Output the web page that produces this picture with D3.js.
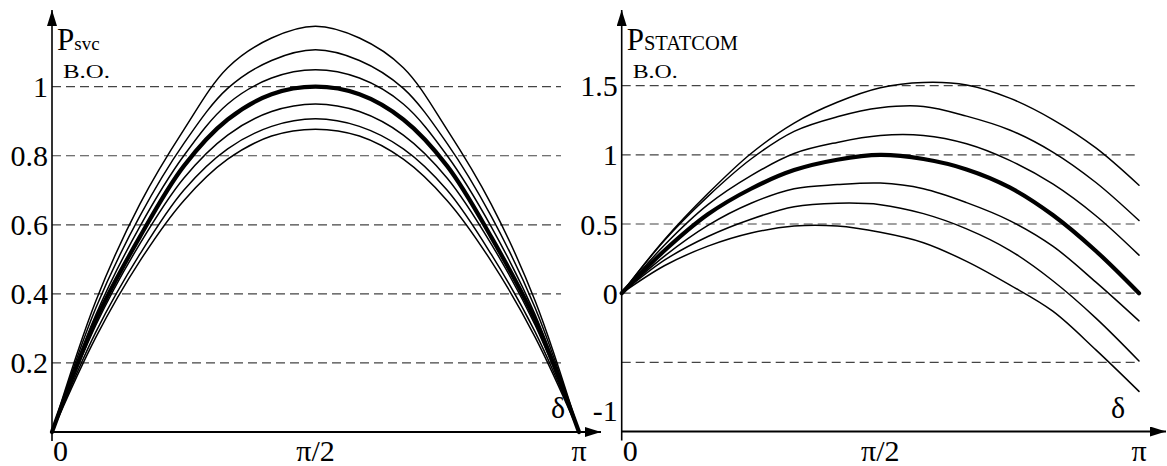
<!DOCTYPE html>
<html>
<head>
<meta charset="utf-8">
<title>P svc / P statcom</title>
<style>
  body { margin: 0; background: #fff; }
  text { font-family: "Liberation Serif", "Times New Roman", serif; fill: #000; }
</style>
</head>
<body>

<div id="my_dataviz"></div>

<script src="https://d3js.org/d3.v7.min.js"></script>
<script>

    // load angle, degrees (0 .. 180 every 15)
    var angles = [0, 15, 30, 45, 60, 75, 90, 105, 120, 135, 150, 165, 180];

    // SVC curves (4th one is the thick base curve)
    var svc1 = [0, 0.38, 0.66, 0.875, 1.055, 1.141, 1.175, 1.141, 1.055, 0.875, 0.66, 0.38, 0];
    var svc2 = [0, 0.36, 0.625, 0.835, 0.995, 1.076, 1.107, 1.076, 0.995, 0.835, 0.625, 0.36, 0];
    var svc3 = [0, 0.34, 0.595, 0.80, 0.95, 1.025, 1.049, 1.025, 0.95, 0.80, 0.595, 0.34, 0];
    var svc4 = [0, 0.325, 0.565, 0.77, 0.905, 0.978, 1.0, 0.978, 0.905, 0.77, 0.565, 0.325, 0];
    var svc5 = [0, 0.31, 0.545, 0.735, 0.86, 0.928, 0.95, 0.928, 0.86, 0.735, 0.545, 0.31, 0];
    var svc6 = [0, 0.29, 0.515, 0.70, 0.82, 0.885, 0.907, 0.885, 0.82, 0.70, 0.515, 0.29, 0];
    var svc7 = [0, 0.275, 0.495, 0.67, 0.79, 0.857, 0.877, 0.857, 0.79, 0.67, 0.495, 0.275, 0];

    // STATCOM curves, right panel (4th one is the thick base curve)
    var st1 = [0, 0.39, 0.72, 1.01, 1.23, 1.38, 1.485, 1.523, 1.505, 1.41, 1.255, 1.05, 0.78];
    var st2 = [0, 0.385, 0.70, 0.97, 1.17, 1.275, 1.34, 1.35, 1.28, 1.18, 1.02, 0.80, 0.525];
    var st3 = [0, 0.35, 0.64, 0.85, 1.01, 1.09, 1.14, 1.14, 1.08, 0.96, 0.79, 0.56, 0.275];
    var st4 = [0, 0.31, 0.57, 0.755, 0.89, 0.965, 1.0, 0.97, 0.895, 0.765, 0.565, 0.305, 0.0];
    var st5 = [0, 0.27, 0.49, 0.65, 0.755, 0.785, 0.796, 0.755, 0.655, 0.525, 0.34, 0.08, -0.2];
    var st6 = [0, 0.24, 0.41, 0.535, 0.625, 0.65, 0.64, 0.575, 0.465, 0.31, 0.09, -0.18, -0.49];
    var st7 = [0, 0.2, 0.34, 0.435, 0.485, 0.485, 0.44, 0.365, 0.23, 0.06, -0.13, -0.41, -0.71];

    var svcSeries = [svc1, svc2, svc3, svc4, svc5, svc6, svc7];
    var stSeries = [st1, st2, st3, st4, st5, st6, st7];
    var thickIndex = 3;

    // ticks
    var svcTicks = [1, 0.8, 0.6, 0.4, 0.2];
    var svcTickLabels = ["1", "0.8", "0.6", "0.4", "0.2"];
    var svcGrid = [1, 0.8, 0.6, 0.4, 0.2];

    var stTicks = [1.5, 1, 0.5, 0, -1];
    var stTickLabels = ["1.5", "1", "0.5", "0", "-1"];
    var stGrid = [1.5, 1, 0.5, 0, -0.5];

    var xTicks = [0, Math.PI / 2, Math.PI];
    var xTickLabels = ["0", "π/2", "π"];

    var W = 1167, H = 466;
    var serif = "'Liberation Serif', 'Times New Roman', serif";

    var svg = d3.select("#my_dataviz")
      .append("svg")
        .attr("width", W)
        .attr("height", H)
        .attr("font-family", serif);

    var defs = svg.append("defs");
    defs.append("marker")
        .attr("id", "arrow")
        .attr("viewBox", "0 0 16 10")
        .attr("refX", 16)
        .attr("refY", 5)
        .attr("markerUnits", "userSpaceOnUse")
        .attr("markerWidth", 16)
        .attr("markerHeight", 10)
        .attr("orient", "auto")
      .append("path")
        .attr("d", "M0,0 L16,5 L0,10 Z")
        .attr("fill", "#000");

    // draws one panel
    function panel(opt) {
      var x = d3.scaleLinear().domain([0, Math.PI]).range(opt.xRange);
      var y = d3.scaleLinear().domain(opt.yDomain).range(opt.yRange);
      var g = svg.append("g");

      // dashed grid
      g.selectAll(".grid")
        .data(opt.grid)
        .enter()
        .append("line")
          .attr("x1", x(0))
          .attr("x2", opt.gridEnd)
          .attr("y1", function(d) { return y(d); })
          .attr("y2", function(d) { return y(d); })
          .attr("stroke", "#444")
          .attr("stroke-width", 1.2)
          .attr("stroke-dasharray", "9,5");

      // curves
      var line = d3.line()
        .x(function(d, i) { return x(angles[i] * Math.PI / 180); })
        .y(function(d) { return y(d); })
        .curve(d3.curveCatmullRom);

      g.selectAll(".curve")
        .data(opt.series)
        .enter()
        .append("path")
          .attr("d", line)
          .attr("fill", "none")
          .attr("stroke", "#000")
          .attr("stroke-linejoin", "round")
          .attr("stroke-linecap", "round")
          .attr("stroke-width", function(d, i) { return i == thickIndex ? 4.2 : 1.5; });

      // axes with arrows
      var yBase = y(opt.yDomain[0]);
      g.append("line")
        .attr("x1", x(0)).attr("x2", x(0))
        .attr("y1", yBase + 9).attr("y2", 10)
        .attr("stroke", "#000").attr("stroke-width", 1.6)
        .attr("marker-end", "url(#arrow)");
      g.append("line")
        .attr("x1", x(0)).attr("x2", opt.arrowEnd)
        .attr("y1", yBase).attr("y2", yBase)
        .attr("stroke", "#000").attr("stroke-width", 1.8)
        .attr("marker-end", "url(#arrow)");

      // y tick labels
      g.selectAll(".ylab")
        .data(opt.ticks)
        .enter()
        .append("text")
          .attr("x", x(0) - 4)
          .attr("y", function(d) { return d == opt.yDomain[0] ? y(d) - 11 : y(d) + 10.5; })
          .attr("text-anchor", "end")
          .attr("font-size", 30)
          .text(function(d, i) { return opt.tickLabels[i]; });

      // x tick labels
      g.selectAll(".xlab")
        .data(xTicks)
        .enter()
        .append("text")
          .attr("x", function(d, i) { return i == 0 ? x(d) + 1 : x(d); })
          .attr("y", 461)
          .attr("text-anchor", function(d, i) { return i == 0 ? "start" : "middle"; })
          .attr("font-size", 30)
          .text(function(d, i) { return xTickLabels[i]; });

      // delta
      g.append("text")
        .attr("x", x(Math.PI) - 21)
        .attr("y", 418)
        .attr("text-anchor", "middle")
        .attr("font-size", 30)
        .text("δ");

      // title P + subscript
      var t = g.append("text")
        .attr("x", x(0) + 5)
        .attr("y", 50);
      t.append("tspan").attr("font-size", 31).text("P");
      t.append("tspan").attr("font-size", opt.subSize).text(opt.sub);

      g.append("text")
        .attr("x", x(0) + opt.unitDx)
        .attr("y", 77.5)
        .attr("font-size", 19)
        .attr("textLength", opt.unitLen)
        .attr("lengthAdjust", "spacingAndGlyphs")
        .text("В.О.");
    }

    panel({
      xRange: [52, 579], yDomain: [0, 1], yRange: [432, 86.7],
      grid: svcGrid, gridEnd: 561, arrowEnd: 601,
      series: svcSeries, ticks: svcTicks, tickLabels: svcTickLabels,
      sub: "svc", subSize: 19, unitDx: 11, unitLen: 47
    });

    panel({
      xRange: [621.7, 1139], yDomain: [-1, 1.5], yRange: [431.5, 85.7],
      grid: stGrid, gridEnd: 1139, arrowEnd: 1166,
      series: stSeries, ticks: stTicks, tickLabels: stTickLabels,
      sub: "STATCOM", subSize: 20.5, unitDx: 11, unitLen: 45
    });

</script>
</body>
</html>
